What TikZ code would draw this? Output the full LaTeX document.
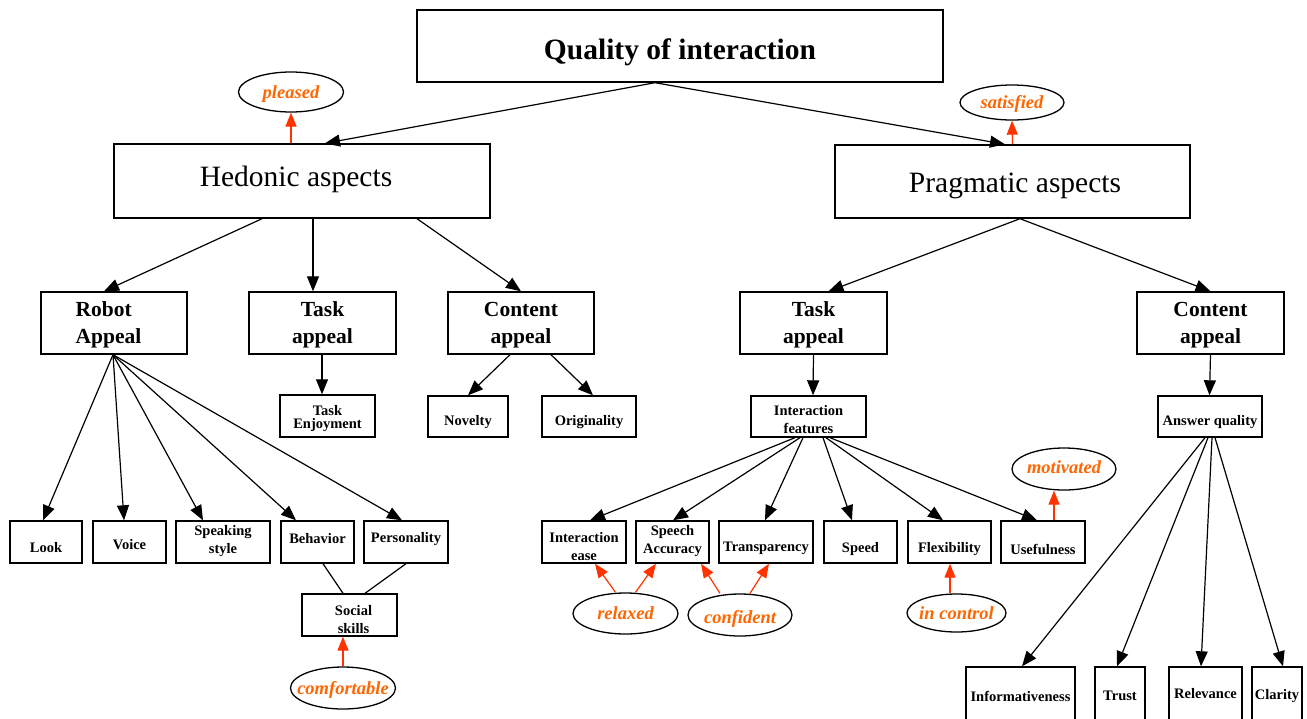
\documentclass[tikz,border=0pt]{standalone}
\usepackage{fontspec}
\setmainfont{Liberation Serif}
\usetikzlibrary{arrows.meta,shapes.geometric,calc}
\definecolor{orng}{RGB}{255,102,0}
\definecolor{redar}{RGB}{255,51,0}
\tikzset{
  box/.style={draw,line width=1.4pt,inner sep=0pt},
  ell/.style={draw,ellipse,line width=1.3pt,inner sep=0pt},
  big/.style={font=\fontsize{29.5}{34}\selectfont\bfseries},
  bigr/.style={font=\fontsize{29.5}{34}\selectfont},
  mid/.style={font=\fontsize{21.5}{27}\selectfont\bfseries,align=center},
  sm/.style={font=\fontsize{14.5}{18}\selectfont\bfseries,align=center,inner sep=0pt},
  smt/.style={font=\fontsize{14.5}{13}\selectfont\bfseries,align=center,inner sep=0pt},
  emo/.style={font=\fontsize{18.5}{22}\selectfont\bfseries\itshape,text=orng,inner sep=0pt},
  arr/.style={line width=1.2pt,-{Triangle[length=15pt,width=12pt]}},
  rarr/.style={line width=1.2pt,draw=redar,-{Triangle[length=14pt,width=11pt]},redar},
  ln/.style={line width=1.2pt}
}
% name, x, y, width, height, text, label style
\newcommand\bx[7]{\node[box,minimum width=#4pt,minimum height=#5pt,label={[#7]center:#6}] (#1) at (#2,#3) {};}
\newcommand\el[7]{\node[ell,minimum width=#4pt,minimum height=#5pt,label={[emo,#7]center:#6}] (#1) at (#2,#3) {};}
\begin{document}
\begin{tikzpicture}[x=1pt,y=-1pt]
\fill[white] (0,0) rectangle (1307,718);
\useasboundingbox (0,0) rectangle (1307,718);

% level 0 / 1
\bx{quality}{680}{46}{526}{72}{Quality of interaction}{big,yshift=-6pt}
\bx{hedonic}{302}{181}{376}{74}{Hedonic aspects}{bigr,xshift=-6pt,yshift=2pt}
\bx{pragmatic}{1012.5}{181.5}{355}{73}{Pragmatic aspects}{bigr,xshift=2.5pt,yshift=-4.5pt}
\el{pleased}{291}{92}{105}{40}{pleased}{yshift=-2pt}
\el{satisfied}{1012}{102.5}{104}{35}{satisfied}{yshift=-1pt}

% level 2
\bx{robot}{114}{323}{146}{62}{Robot\\Appeal}{mid,align=left,xshift=-5.5pt,yshift=-2pt}
\bx{taskH}{322.5}{323}{147}{62}{Task\\appeal}{mid,yshift=-2pt}
\bx{contH}{521}{323}{146}{62}{Content\\appeal}{mid,yshift=-2pt}
\bx{taskP}{813.5}{323}{147}{62}{Task\\appeal}{mid,yshift=-2pt}
\bx{contP}{1210.5}{323}{147}{62}{Content\\appeal}{mid,yshift=-2pt}

% level 3
\bx{taskenj}{327.5}{416}{95}{42}{Task\\Enjoyment}{smt,yshift=-2.5pt}
\bx{novelty}{468}{416.5}{80}{41}{Novelty}{sm,yshift=-6pt}
\bx{orig}{589}{416.5}{94}{41}{Originality}{sm,yshift=-6pt}
\bx{intfeat}{808.5}{416.5}{115}{41}{Interaction\\features}{sm,yshift=-3pt}
\bx{ansq}{1210}{416.5}{104}{41}{Answer quality}{sm,yshift=-6pt}

% hedonic leaves
\bx{look}{46}{542}{72}{42}{Look}{sm,yshift=-6pt}
\bx{voice}{129.5}{542}{73}{42}{Voice}{sm,yshift=-3pt}
\bx{speak}{223}{542}{94}{42}{Speaking\\style}{sm,yshift=1pt}
\bx{behav}{317.5}{542}{73}{42}{Behavior}{sm,yshift=3pt}
\bx{person}{406}{542}{84}{42}{Personality}{sm,yshift=3pt}
\bx{social}{349.5}{615}{95}{42}{Social\\skills}{sm,xshift=4pt,yshift=-5pt}
\el{comfortable}{343}{688}{105}{42}{comfortable}{yshift=-2pt}

% pragmatic leaves
\bx{intease}{584}{542}{84}{42}{Interaction\\ease}{sm,yshift=-5pt}
\bx{speech}{672.5}{542}{73}{42}{Speech\\Accuracy}{sm,yshift=1pt}
\bx{transp}{766}{542}{94}{42}{Transparency}{sm,yshift=-6pt}
\bx{speed}{860.5}{542}{73}{42}{Speed}{sm,yshift=-7pt}
\bx{flex}{949.5}{542}{83}{42}{Flexibility}{sm,yshift=-7pt}
\bx{useful}{1043}{542}{84}{42}{Usefulness}{sm,yshift=-7pt}
\el{relaxed}{625.5}{613.5}{105}{41}{relaxed}{}
\el{confident}{740}{615}{104}{42}{confident}{yshift=-4pt}
\el{incontrol}{956.5}{613}{99}{38}{in control}{}
\el{motivated}{1064}{469}{104}{42}{motivated}{yshift=1.5pt}

% answer leaves
\bx{inform}{1020.5}{694}{109}{54}{Informativeness}{sm,yshift=-2pt}
\bx{trust}{1120}{694}{50}{54}{Trust}{sm,yshift=-2pt}
\bx{relev}{1205.5}{694}{73}{54}{Relevance}{sm,yshift=0pt}
\bx{clarity}{1277}{694}{50}{54}{Clarity}{sm,yshift=-2pt}

% connectors level 0-1
\draw[arr] ([xshift=-25pt]quality.south) -- ([xshift=23pt]hedonic.north);
\draw[arr] ([xshift=-25pt]quality.south) -- ([xshift=-7.5pt]pragmatic.north);
\draw[rarr] ([xshift=-11pt]hedonic.north) -- (pleased.south);
\draw[rarr] (pragmatic.north) -- (satisfied.south);

% level 1-2
\draw[arr] ([xshift=-40pt]hedonic.south) -- ([xshift=-10pt]robot.north);
\draw[arr] ([xshift=11pt]hedonic.south) -- ([xshift=-9.5pt]taskH.north);
\draw[arr] ([xshift=115pt]hedonic.south) -- (contH.north);
\draw[arr] ([xshift=7.5pt]pragmatic.south) -- ([xshift=15pt]taskP.north);
\draw[arr] ([xshift=7.5pt]pragmatic.south) -- (contP.north);

% level 2-3
\draw[arr] ([xshift=-0.5pt]taskH.south) -- ([xshift=-5.5pt]taskenj.north);
\draw[arr] ([xshift=-11pt]contH.south) -- (novelty.north);
\draw[arr] ([xshift=30pt]contH.south) -- ([xshift=4pt]orig.north);
\draw[arr] (taskP.south) -- ([xshift=4.5pt]intfeat.north);
\draw[arr] (contP.south) -- ([xshift=-0.5pt]ansq.north);

% robot appeal leaves
\draw[arr] ([xshift=-1pt]robot.south) -- ([xshift=-3pt]look.north);
\draw[arr] ([xshift=-1pt]robot.south) -- ([xshift=-5.5pt]voice.north);
\draw[arr] ([xshift=-1pt]robot.south) -- ([xshift=-20pt]speak.north);
\draw[arr] ([xshift=-1pt]robot.south) -- ([xshift=-21.5pt]behav.north);
\draw[arr] ([xshift=-1pt]robot.south) -- ([xshift=-4pt]person.north);
\draw[ln] ([xshift=5.5pt]behav.south) -- ([xshift=-6.5pt]social.north);
\draw[ln] (person.south) -- ([xshift=15.5pt]social.north);
\draw[rarr] (comfortable.north) -- ([xshift=-6.5pt]social.south);

% interaction features leaves
\draw[arr] ([xshift=-13.5pt]intfeat.south) -- ([xshift=6pt]intease.north);
\draw[arr] ([xshift=-8.5pt]intfeat.south) -- ([xshift=0.5pt]speech.north);
\draw[arr] ([xshift=-5.5pt]intfeat.south) -- ([xshift=-1pt]transp.north);
\draw[arr] ([xshift=14.5pt]intfeat.south) -- ([xshift=-8.5pt]speed.north);
\draw[arr] ([xshift=17.5pt]intfeat.south) -- ([xshift=-6.5pt]flex.north);
\draw[arr] ([xshift=21.5pt]intfeat.south) -- ([xshift=-6pt]useful.north);
\draw[rarr] ([xshift=-10pt]relaxed.north) -- ([xshift=11pt]intease.south);
\draw[rarr] ([xshift=10pt]relaxed.north) -- ([xshift=-16.5pt]speech.south);
\draw[rarr] ([xshift=-20pt]confident.north) -- ([xshift=28.5pt]speech.south);
\draw[rarr] ([xshift=10pt]confident.north) -- ([xshift=3pt]transp.south);
\draw[rarr] ([xshift=-6.5pt]incontrol.north) -- ([xshift=0.5pt]flex.south);
\draw[rarr] ([xshift=11pt]useful.north) -- ([xshift=-10pt]motivated.south);

% answer quality leaves
\draw[arr] ([xshift=-5pt]ansq.south) -- ([xshift=1.5pt]inform.north);
\draw[arr] ([xshift=-2pt]ansq.south) -- ([xshift=-3pt]trust.north);
\draw[arr] ([xshift=2pt]ansq.south) -- ([xshift=-4.5pt]relev.north);
\draw[arr] ([xshift=5pt]ansq.south) -- ([xshift=6pt]clarity.north);
\end{tikzpicture}
\end{document}
